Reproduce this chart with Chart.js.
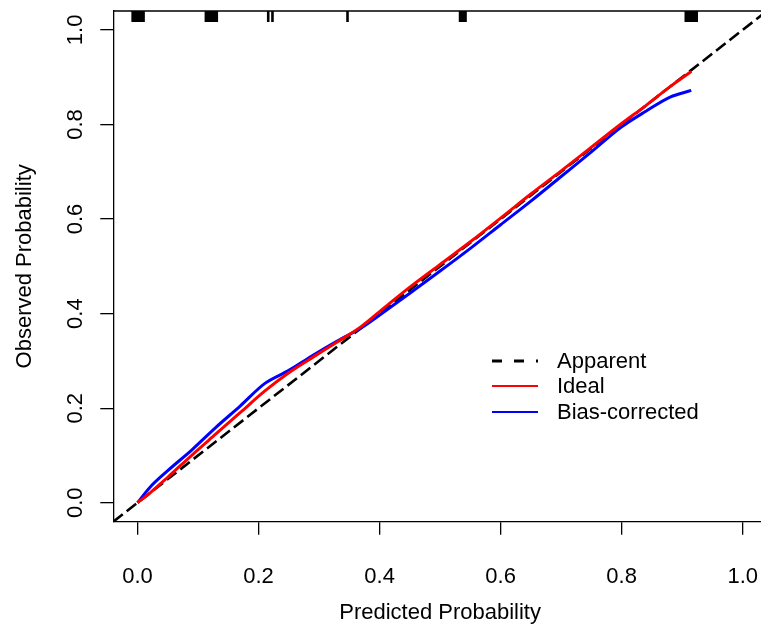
<!DOCTYPE html>
<html>
<head>
<meta charset="utf-8">
<script src="https://cdn.jsdelivr.net/npm/chart.js@4/dist/chart.umd.min.js"></script>
<style>
  html, body { margin: 0; padding: 0; background: #fff; overflow: hidden; }
  #wrap { position: relative; width: 761px; height: 628px; overflow: hidden; }
  #legend { position: absolute; left: 491px; top: 348px; font: 22px 'Liberation Sans', Arial, sans-serif; color: #000; }
  #legend .row { display: flex; align-items: center; height: 25.5px; }
  #legend svg { width: 47px; height: 10px; margin-right: 19px; }
</style>
</head>
<body>
<div id="wrap">
  <canvas id="calib" width="775" height="628"></canvas>
  <div id="legend"></div>
</div>
<script>
const xTicks = [0, 0.2, 0.4, 0.6, 0.8, 1.0];
const yTicks = [0, 0.2, 0.4, 0.6, 0.8, 1.0];

// predicted probability grid shared by both curves
const predicted     = [0, 0.02, 0.05, 0.09, 0.13, 0.17, 0.21, 0.25, 0.29, 0.33, 0.37, 0.41, 0.45, 0.50, 0.55, 0.60, 0.65, 0.70, 0.75, 0.80, 0.84, 0.88, 0.915];
const ideal         = [0, 0.02, 0.054, 0.101, 0.146, 0.191, 0.236, 0.275, 0.308, 0.34, 0.373, 0.415, 0.456, 0.504, 0.552, 0.602, 0.653, 0.702, 0.752, 0.802, 0.84, 0.88, 0.912];
const biasCorrected = [0, 0.032, 0.068, 0.112, 0.16, 0.205, 0.252, 0.28, 0.312, 0.342, 0.37, 0.406, 0.443, 0.49, 0.538, 0.588, 0.638, 0.69, 0.742, 0.795, 0.828, 0.858, 0.872];

// diagonal reference, drawn corner to corner
const apparentX = [-0.04, 1.04];

// rug of predicted values along the top
const rugX = [-0.008, -0.005, -0.002, 0.001, 0.004, 0.007, 0.010,
    0.113, 0.116, 0.119, 0.122, 0.125, 0.128, 0.131,
    0.216, 0.223, 0.347,
    0.533, 0.536, 0.539, 0.542,
    0.906, 0.909, 0.912, 0.915, 0.918, 0.921, 0.924];

const font = { family: "'Liberation Sans', Arial, sans-serif", size: 22 };

const toPoints = (xs, ys) => xs.map((x, i) => ({ x, y: ys[i] }));

const frame = {
    id: 'frame',
    afterDraw(chart) {
        const { ctx, chartArea: a } = chart;
        ctx.save();
        ctx.strokeStyle = '#000';
        ctx.lineWidth = 1.3;
        ctx.beginPath();
        ctx.moveTo(a.left, a.top);
        ctx.lineTo(a.right, a.top);
        ctx.lineTo(a.right, a.bottom);
        ctx.stroke();
        ctx.restore();
    }
};

const datasets = [
    {
        label: 'Ideal',
        data: toPoints(predicted, ideal),
        borderColor: '#ff0000',
        borderWidth: 3,
        pointRadius: 0,
        showLine: true,
        cubicInterpolationMode: 'monotone',
        order: 1,
    },
    {
        label: 'Bias-corrected',
        data: toPoints(predicted, biasCorrected),
        borderColor: '#0000ff',
        borderWidth: 3,
        pointRadius: 0,
        showLine: true,
        cubicInterpolationMode: 'monotone',
        order: 2,
    },
    {
        label: 'Apparent',
        data: toPoints(apparentX, apparentX),
        borderColor: '#000',
        borderWidth: 2.6,
        borderDash: [12, 5],
        pointRadius: 0,
        showLine: true,
        order: 3,
    },
    {
        label: 'rug',
        data: rugX.map(x => ({ x, y: 1.0286 })),
        showLine: false,
        pointStyle: 'line',
        rotation: 90,
        pointRadius: 5.5,
        borderWidth: 2.6,
        borderColor: '#000',
        order: 4,
    },
];

new Chart(document.getElementById('calib'), {
    type: 'scatter',
    data: { datasets },
    options: {
        responsive: false,
        animation: false,
        devicePixelRatio: 1,
        layout: { padding: { top: 11, right: 5.7, bottom: 0, left: 0 } },
        plugins: { legend: { display: false }, tooltip: { enabled: false } },
        scales: {
            x: {
                type: 'linear',
                min: -0.04,
                max: 1.04,
                afterBuildTicks: s => { s.ticks = xTicks.map(value => ({ value })); },
                afterFit: s => { s.height = 106.3; s.paddingLeft = 0; s.paddingRight = 0; },
                grid: { drawOnChartArea: false, tickLength: 13, color: '#000', lineWidth: 1.3 },
                border: { color: '#000', width: 1.3 },
                ticks: { font, color: '#000', padding: 29, maxRotation: 0, callback: v => v.toFixed(1) },
                title: { display: true, text: 'Predicted Probability', font, color: '#000', padding: { top: 0, bottom: 2 } },
            },
            y: {
                type: 'linear',
                min: -0.04,
                max: 1.04,
                afterBuildTicks: s => { s.ticks = yTicks.map(value => ({ value })); },
                afterFit: s => { s.width = 113.3; s.paddingTop = 0; s.paddingBottom = 0; },
                grid: { drawOnChartArea: false, tickLength: 13, color: '#000', lineWidth: 1.3 },
                border: { color: '#000', width: 1.3 },
                ticks: { font, color: '#000', padding: 9, minRotation: 90, maxRotation: 90, crossAlign: 'center', callback: v => v.toFixed(1) },
                title: { display: true, text: 'Observed Probability', font, color: '#000', padding: { top: 12, bottom: 0 } },
            },
        },
    },
    plugins: [frame],
});

// legend in the R order: Apparent, Ideal, Bias-corrected
const legendOrder = ['Apparent', 'Ideal', 'Bias-corrected'];
const legendEl = document.getElementById('legend');
legendOrder.forEach(name => {
    const ds = datasets.find(d => d.label === name);
    const dash = ds.borderDash ? 'stroke-dasharray="10 12"' : '';
    const w = ds.borderDash ? 3 : 2;
    legendEl.insertAdjacentHTML('beforeend',
        `<div class="row"><svg><line x1="1" y1="5" x2="47" y2="5" stroke="${ds.borderColor}" stroke-width="${w}" ${dash}/></svg><span>${name}</span></div>`);
});
</script>
</body>
</html>
